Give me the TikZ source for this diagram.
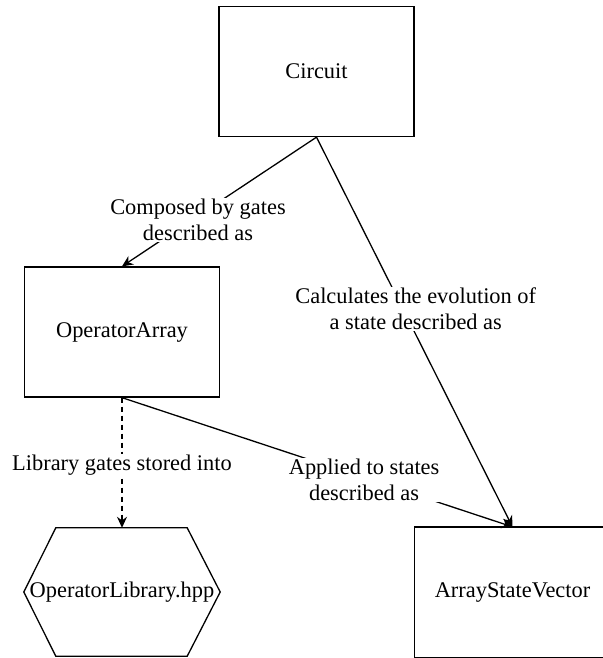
\documentclass[tikz,border=0pt]{standalone}
\usepackage{fontspec}
\setmainfont{Liberation Serif}
\usetikzlibrary{arrows.meta}

\tikzset{
  block/.style={draw, line width=1.3pt, minimum width=195pt, minimum height=130pt,
    inner sep=0pt, font=\fontsize{22.4}{26}\selectfont},
  hexlabel/.style={minimum width=196pt, minimum height=128pt, inner sep=0pt,
    font=\fontsize{22.4}{26}\selectfont},
  edgelabel/.style={fill=white, inner sep=1pt, align=center,
    font=\fontsize{22.4}{26}\selectfont},
  link/.style={line width=1.3pt, -{Stealth[length=11pt,width=10pt]}},
  storelink/.style={link, dash pattern=on 5pt off 4pt}
}

\begin{document}
\begin{tikzpicture}[x=1pt, y=-1pt]
  \useasboundingbox (0,0) rectangle (602,658);

  % components
  \node[block] (circuit) at (316.5,71.5) {Circuit};
  \node[block] (oparray) at (122,332) {OperatorArray};
  \node[block, draw=none, minimum height=129pt] (asv) at (512.5,592) {ArrayStateVector};
  \node[hexlabel] (lib) at (122,592) {OperatorLibrary.hpp};

  % the state-vector box runs past the right margin, so its right side is not drawn
  \draw[line width=1.3pt] (asv.north -| 603,0) -- (asv.north west)
    -- (asv.south west) -- (asv.south -| 603,0);

  % hexagonal outline of the operator library
  \draw[line width=1.3pt, line join=miter]
    (lib.west) -- ([xshift=32pt]lib.north west) -- ([xshift=-33pt]lib.north east)
    -- (lib.east) -- ([xshift=-33pt]lib.south east) -- ([xshift=32pt]lib.south west)
    -- cycle;

  % relations
  \draw[link] (circuit.south) --
    node[edgelabel, pos=0.64, xshift=6pt] {Composed by gates\\described as}
    (oparray.north);
  \draw[link] (circuit.south) --
    node[edgelabel, pos=0.44, xshift=13pt] {Calculates the evolution of\\a state described as}
    (asv.north);
  \draw[link] (oparray.south) --
    node[edgelabel, pos=0.62, yshift=-2pt] {Applied to states\\described as}
    (asv.north);
  \draw[storelink] (oparray.south) --
    node[edgelabel, pos=0.52] {Library gates stored into}
    (lib.north);
\end{tikzpicture}
\end{document}
